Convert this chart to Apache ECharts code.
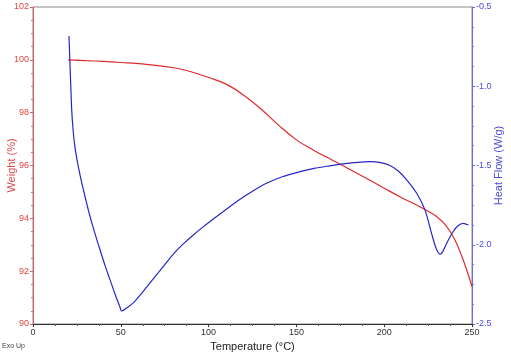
<!DOCTYPE html>
<html>
<head>
<meta charset="utf-8">
<script src="https://cdn.jsdelivr.net/npm/echarts@6/dist/echarts.min.js"></script>
<style>
  html, body { margin: 0; padding: 0; background: #fff; }
  #chart { width: 511px; height: 356px; }
</style>
</head>
<body>
<div id="chart"></div>
<script>
// weight curve (%)
const weightTemp = [20, 30, 40, 50, 60, 70, 80, 90, 100, 110, 120, 130, 140, 150, 160, 170, 180, 190, 200, 210, 220, 225, 230, 235, 240, 245, 250]
const weightVal = [100.0, 99.97, 99.94, 99.9, 99.86, 99.79, 99.7, 99.55, 99.33, 99.08, 98.66, 98.13, 97.52, 96.97, 96.57, 96.22, 95.87, 95.51, 95.14, 94.78, 94.45, 94.27, 94.06, 93.74, 93.22, 92.42, 91.42]

// heat flow curve (W/g)
const heatTemp = [20.5, 21.0, 21.5, 22.1, 22.8, 23.6, 25, 26.8, 29.5, 32.5, 35.3, 38.2, 41, 44, 47, 49.6, 50.4, 53.5, 57.1, 61, 64.7, 68.5, 72.3, 77, 81.8, 86.5, 91.3, 96, 100.8, 109, 117.9, 125, 133, 142, 152, 160, 169, 176.7, 185, 191.9, 198, 203.3, 208, 212.8, 218.5, 223.2, 227, 229.5, 231.8, 233.5, 235.6, 239.4, 242, 245, 248]
const heatVal = [-0.683, -0.84, -0.995, -1.16, -1.27, -1.36, -1.46, -1.56, -1.69, -1.823, -1.93, -2.033, -2.13, -2.225, -2.32, -2.395, -2.418, -2.398, -2.367, -2.318, -2.267, -2.215, -2.163, -2.098, -2.036, -1.985, -1.938, -1.895, -1.853, -1.785, -1.713, -1.662, -1.612, -1.571, -1.539, -1.518, -1.502, -1.49, -1.48, -1.476, -1.482, -1.5, -1.535, -1.59, -1.675, -1.78, -1.93, -2.02, -2.06, -2.04, -1.99, -1.915, -1.88, -1.865, -1.875]

const weightColor = '#e02a2a'
const heatColor = '#2626c8'
const font = 'Liberation Sans'

const chart = echarts.init(document.getElementById('chart'))

const option = {
  animation: false,
  textStyle: { fontFamily: font },
  grid: {
    left: 33, right: 39, top: 7, bottom: 32,
    outerBoundsMode: 'none',
    containLabel: false,
    show: true, borderColor: '#8a8a8a', borderWidth: 1,
  },
  xAxis: {
    type: 'value',
    min: 0, max: 250, interval: 50,
    name: 'Temperature (°C)',
    nameLocation: 'middle',
    nameGap: 17,
    nameMoveOverlap: false,
    nameTextStyle: { color: '#222', fontSize: 11, fontFamily: font },
    axisLine: { lineStyle: { color: '#333', width: 1 } },
    axisTick: { show: true, length: 3, lineStyle: { color: '#333' } },
    minorTick: { show: true, splitNumber: 4, length: 2, lineStyle: { color: '#555' } },
    axisLabel: { color: '#333', fontSize: 9, margin: 4, fontFamily: font },
    splitLine: { show: false },
  },
  yAxis: [
    {
      type: 'value',
      position: 'left',
      min: 90, max: 102, interval: 2,
      name: 'Weight (%)',
      nameLocation: 'middle',
      nameRotate: 90,
      nameGap: 16,
      nameMoveOverlap: false,
      nameTextStyle: { color: '#e04545', fontSize: 11, fontFamily: font },
      axisLine: { show: true, onZero: false, lineStyle: { color: '#e06060', width: 1 } },
      axisTick: { show: true, length: 3, lineStyle: { color: '#e06060' } },
      minorTick: { show: true, splitNumber: 4, length: 2, lineStyle: { color: '#e07070' } },
      axisLabel: { color: '#e04545', fontSize: 9, margin: 4, fontFamily: font },
      splitLine: { show: false },
    },
    {
      type: 'value',
      position: 'right',
      min: -2.5, max: -0.5, interval: 0.5,
      name: 'Heat Flow (W/g)',
      nameLocation: 'middle',
      nameRotate: 90,
      nameGap: 21,
      nameMoveOverlap: false,
      nameTextStyle: { color: '#4a4ad8', fontSize: 11, fontFamily: font },
      axisLine: { show: true, onZero: false, lineStyle: { color: '#6a6ae0', width: 1 } },
      axisTick: { show: true, length: 3, lineStyle: { color: '#6a6ae0' } },
      minorTick: { show: true, splitNumber: 4, length: 2, lineStyle: { color: '#7a7ae4' } },
      axisLabel: {
        color: '#4a4ad8', fontSize: 9, margin: 4, fontFamily: font,
        formatter: v => v.toFixed(1),
      },
      splitLine: { show: false },
    },
  ],
  graphic: [
    {
      type: 'text', left: 2, top: 343,
      style: { text: 'Exo Up', fill: '#444', font: '7px "Liberation Sans"' },
    },
  ],
  series: [
    {
      name: 'Weight',
      type: 'line',
      yAxisIndex: 0,
      data: weightTemp.map((t, i) => [t, weightVal[i]]),
      showSymbol: false,
      smooth: 0.4,
      lineStyle: { color: weightColor, width: 1.2 },
    },
    {
      name: 'Heat Flow',
      type: 'line',
      yAxisIndex: 1,
      data: heatTemp.map((t, i) => [t, heatVal[i]]),
      showSymbol: false,
      smooth: 0.3,
      lineStyle: { color: heatColor, width: 1.2 },
    },
  ],
}

chart.setOption(option)
</script>
</body>
</html>
